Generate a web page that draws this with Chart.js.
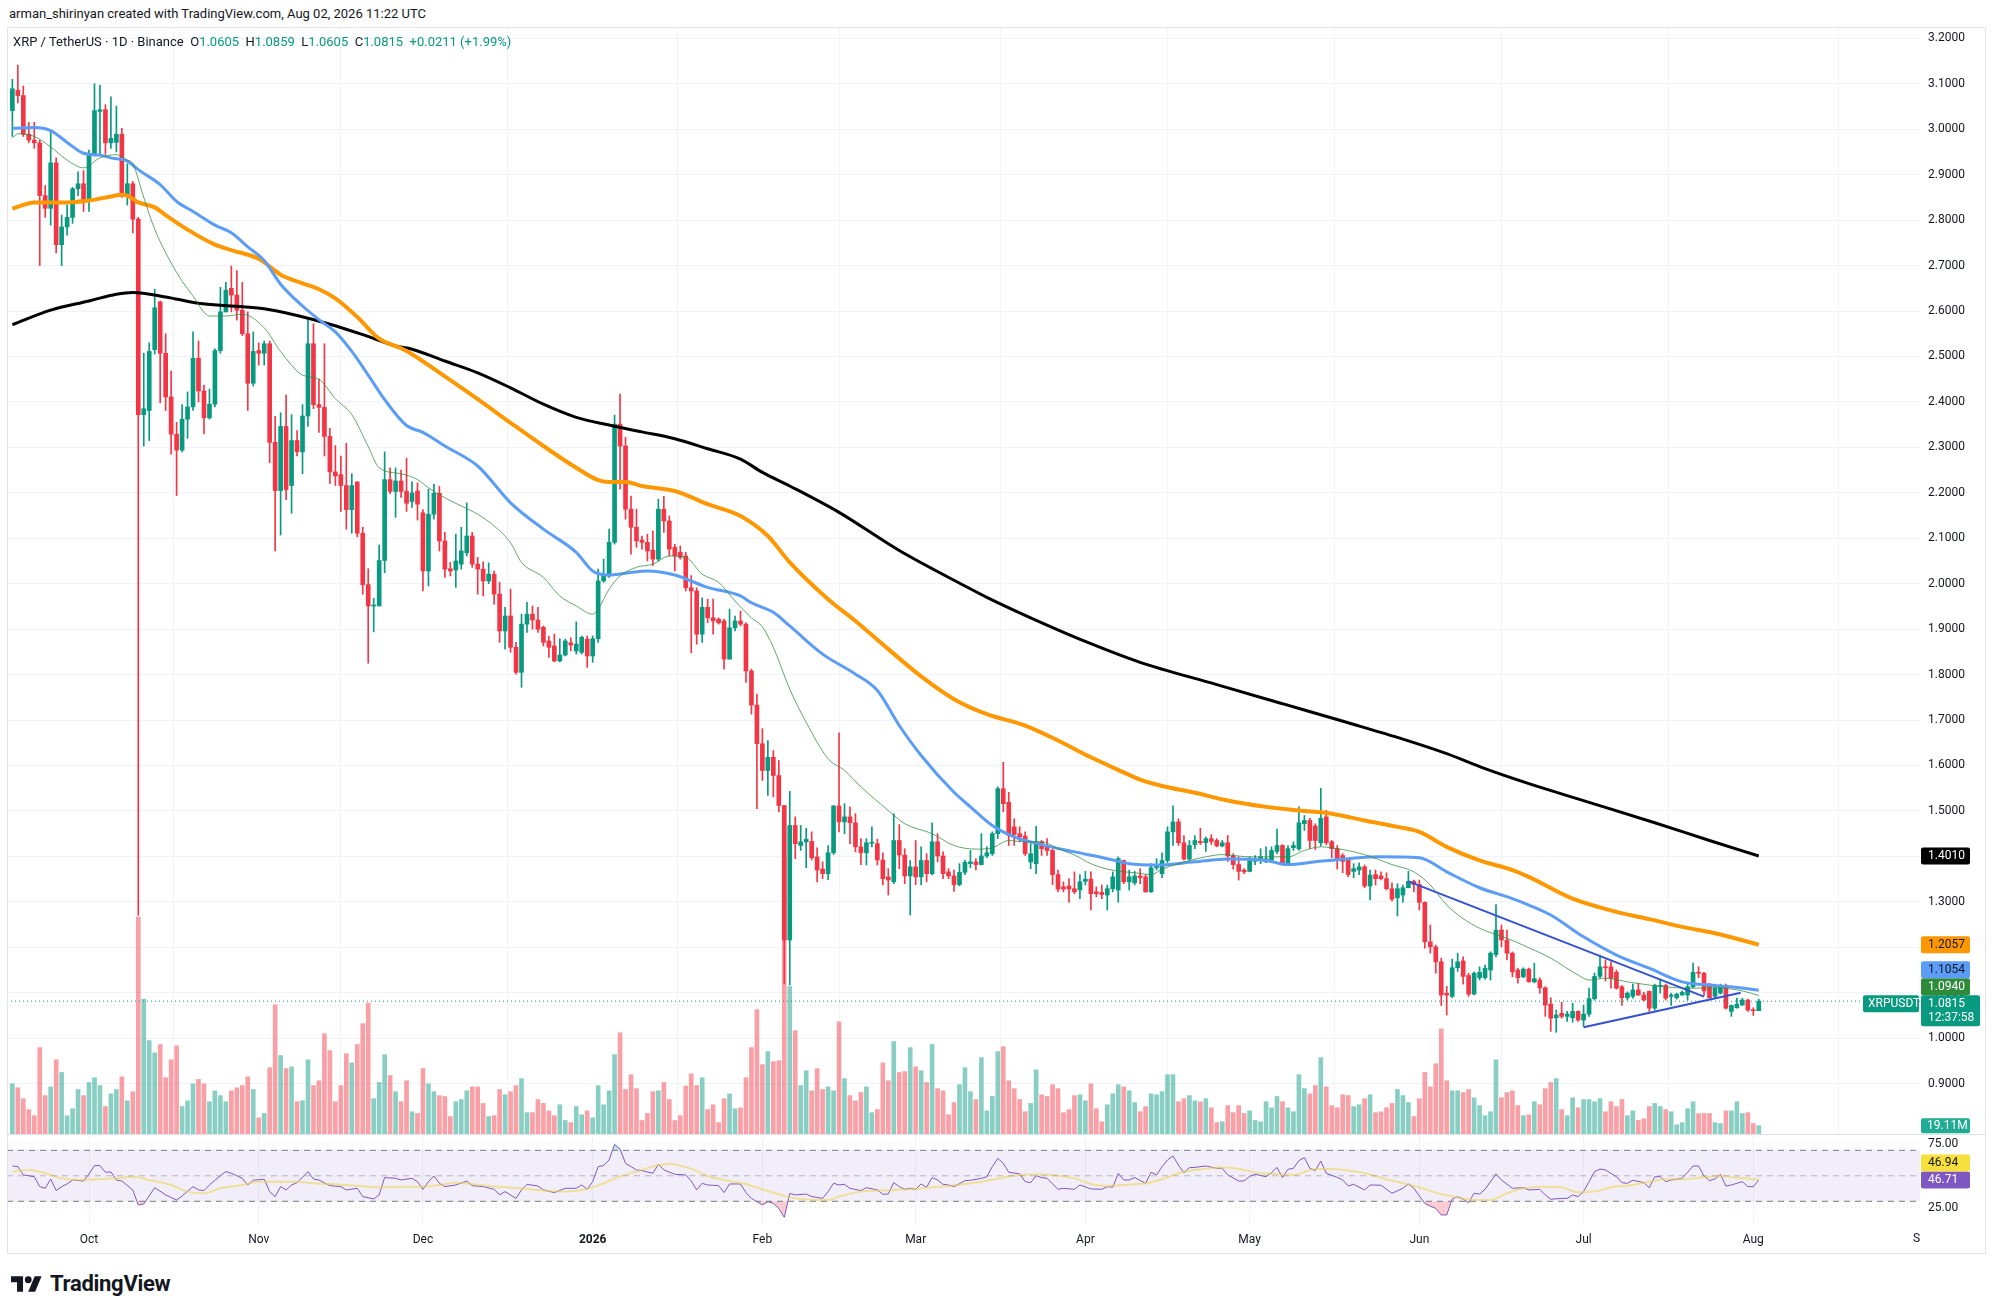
<!DOCTYPE html>
<html>
<head>
<meta charset="utf-8">
<title>XRP / TetherUS · 1D · Binance</title>
<script src="https://cdn.jsdelivr.net/npm/chart.js@4.4.1/dist/chart.umd.min.js"></script>
<style>
  html, body { margin: 0; padding: 0; background: #fff; }
  body { width: 1996px; height: 1314px; position: relative; overflow: hidden;
         font-family: Roboto, "DejaVu Sans", sans-serif; color: #131722; }
  #credit { position: absolute; left: 9px; top: 6px; font-size: 13px; }
  #legend { position: absolute; left: 13px; top: 34px; font-size: 13px; z-index: 3; white-space: pre; }
  #legend .v { color: #089981; }
  .pane { position: absolute; left: 7px; width: 1978px; }
  #pricePane { top: 27px; height: 1107px; }
  #rsiPane { top: 1134px; height: 119px; }
  #frame { position: absolute; left: 7px; top: 27px; width: 1979px; height: 1227px;
           border: 1px solid #e0e3eb; box-sizing: border-box; pointer-events: none; z-index: 2; }
  #sep { position: absolute; left: 7px; top: 1134px; width: 1978px; height: 1px; background: #e0e3eb; z-index: 2; }
  #logo { position: absolute; left: 11px; top: 1271px; display: flex; align-items: center; gap: 8px;
          font-size: 22px; font-weight: 700; letter-spacing: -0.3px; color: #131722; }
</style>
</head>
<body>
<div id="credit">arman_shirinyan created with TradingView.com, Aug 02, 2026 11:22 UTC</div>
<div class="pane" id="pricePane"><canvas id="price"></canvas></div>
<div class="pane" id="rsiPane"><canvas id="rsi"></canvas></div>
<div id="legend">XRP / TetherUS · 1D · Binance  O<span class="v">1.0605</span>  H<span class="v">1.0859</span>  L<span class="v">1.0605</span>  C<span class="v">1.0815</span>  <span class="v">+0.0211 (+1.99%)</span></div>
<div id="frame"></div>
<div id="sep"></div>
<div id="logo">
  <svg width="31" height="16" viewBox="0 4 36 18"><path d="M14 22H7V11H0V4h14v18zM28 22h-8l7.5-18h8L28 22z" fill="#131722"/><circle cx="20" cy="8" r="4" fill="#131722"/></svg>
  <span>TradingView</span>
</div>
<script>
// day index: 0 = Oct 1 2025, one candle per day
const firstDay = -14;

const opens = [
  3.041,3.086,3.074,2.989,2.976,2.970,2.854,2.826,2.926,2.746,
  2.785,2.806,2.869,2.880,2.845,2.945,3.039,3.043,2.970,2.971,
  2.989,2.854,2.880,2.802,2.372,2.381,2.515,2.620,2.507,2.411,
  2.329,2.294,2.362,2.389,2.496,2.424,2.365,2.395,2.513,2.598,
  2.650,2.635,2.602,2.550,2.441,2.513,2.507,2.528,2.311,2.205,
  2.346,2.216,2.315,2.290,2.369,2.528,2.394,2.388,2.324,2.246,
  2.240,2.216,2.163,2.224,2.111,1.998,1.951,1.951,2.051,2.229,
  2.203,2.226,2.203,2.181,2.204,2.156,2.028,2.153,2.199,2.094,
  2.033,2.030,2.043,2.068,2.105,2.043,2.032,2.006,2.021,1.977,
  1.896,1.929,1.860,1.805,1.911,1.933,1.920,1.904,1.874,1.863,
  1.830,1.843,1.870,1.852,1.849,1.878,1.841,1.879,2.006,2.017,
  2.091,2.351,2.303,2.164,2.124,2.096,2.091,2.074,2.054,2.164,
  2.138,2.080,2.069,2.061,1.991,1.984,1.889,1.948,1.925,1.922,
  1.918,1.834,1.903,1.918,1.911,1.808,1.733,1.648,1.589,1.618,
  1.578,1.512,1.216,1.468,1.424,1.432,1.433,1.399,1.372,1.362,
  1.408,1.511,1.476,1.487,1.474,1.421,1.408,1.429,1.428,1.392,
  1.355,1.344,1.435,1.403,1.357,1.377,1.355,1.391,1.362,1.432,
  1.401,1.366,1.357,1.338,1.365,1.384,1.388,1.382,1.401,1.406,
  1.450,1.549,1.519,1.465,1.450,1.445,1.388,1.384,1.432,1.421,
  1.413,1.360,1.333,1.335,1.329,1.326,1.345,1.350,1.322,1.321,
  1.315,1.329,1.326,1.391,1.344,1.342,1.357,1.355,1.322,1.375,
  1.362,1.391,1.454,1.476,1.430,1.394,1.426,1.433,1.430,1.439,
  1.435,1.423,1.430,1.401,1.382,1.370,1.367,1.389,1.392,1.388,
  1.392,1.411,1.424,1.384,1.419,1.417,1.472,1.479,1.467,1.430,
  1.487,1.432,1.417,1.402,1.392,1.367,1.370,1.377,1.335,1.360,
  1.357,1.351,1.329,1.309,1.315,1.331,1.345,1.338,1.299,1.212,
  1.201,1.168,1.099,1.092,1.155,1.170,1.138,1.097,1.133,1.133,
  1.150,1.184,1.238,1.216,1.187,1.150,1.135,1.152,1.124,1.128,
  1.111,1.075,1.045,1.055,1.048,1.045,1.059,1.040,1.053,1.087,
  1.136,1.157,1.157,1.145,1.113,1.089,1.092,1.106,1.095,1.103,
  1.066,1.114,1.116,1.092,1.089,1.095,1.095,1.113,1.145,1.143,
  1.119,1.092,1.099,1.116,1.059,1.067,1.073,1.084,1.062,1.0605
];
const highs = [
  3.110,3.141,3.095,3.015,3.015,2.976,2.876,2.997,2.937,2.811,
  2.833,2.872,2.906,2.909,2.954,3.100,3.097,3.054,3.071,3.051,
  3.002,2.924,2.885,2.806,2.507,2.530,2.648,2.622,2.550,2.468,
  2.355,2.394,2.422,2.554,2.534,2.437,2.428,2.517,2.652,2.663,
  2.699,2.689,2.663,2.598,2.554,2.530,2.534,2.534,2.368,2.376,
  2.415,2.372,2.337,2.394,2.585,2.572,2.450,2.528,2.342,2.304,
  2.281,2.309,2.242,2.224,2.124,2.033,1.968,2.085,2.290,2.255,
  2.255,2.250,2.276,2.224,2.222,2.163,2.208,2.219,2.214,2.113,
  2.047,2.109,2.124,2.178,2.113,2.058,2.048,2.046,2.028,2.003,
  1.948,1.988,1.871,1.933,1.959,1.951,1.948,1.907,1.885,1.889,
  1.879,1.878,1.881,1.916,1.885,1.885,1.885,2.032,2.054,2.120,
  2.371,2.417,2.322,2.193,2.164,2.105,2.109,2.116,2.186,2.192,
  2.149,2.087,2.083,2.069,2.018,1.991,1.969,1.966,1.966,1.925,
  1.922,1.944,1.929,1.940,1.914,1.812,1.757,1.681,1.655,1.633,
  1.611,1.512,1.543,1.487,1.468,1.462,1.454,1.419,1.388,1.424,
  1.512,1.672,1.516,1.509,1.494,1.439,1.439,1.465,1.438,1.408,
  1.373,1.494,1.470,1.417,1.391,1.435,1.421,1.406,1.474,1.450,
  1.410,1.373,1.370,1.384,1.392,1.413,1.395,1.450,1.421,1.454,
  1.553,1.607,1.541,1.483,1.465,1.454,1.428,1.466,1.435,1.439,
  1.417,1.370,1.344,1.351,1.366,1.360,1.367,1.366,1.333,1.337,
  1.337,1.366,1.399,1.392,1.370,1.367,1.373,1.360,1.384,1.395,
  1.408,1.465,1.511,1.483,1.446,1.435,1.446,1.462,1.443,1.448,
  1.439,1.435,1.446,1.406,1.399,1.373,1.399,1.402,1.417,1.421,
  1.421,1.460,1.426,1.424,1.432,1.509,1.490,1.484,1.472,1.550,
  1.501,1.435,1.424,1.406,1.395,1.384,1.386,1.381,1.370,1.370,
  1.366,1.364,1.342,1.340,1.337,1.367,1.348,1.348,1.300,1.249,
  1.205,1.176,1.114,1.174,1.187,1.179,1.143,1.146,1.157,1.161,
  1.190,1.294,1.249,1.238,1.190,1.154,1.155,1.154,1.165,1.133,
  1.113,1.089,1.062,1.079,1.059,1.077,1.060,1.073,1.110,1.143,
  1.183,1.172,1.168,1.150,1.116,1.102,1.119,1.121,1.101,1.104,
  1.119,1.128,1.119,1.099,1.099,1.104,1.121,1.165,1.157,1.145,
  1.121,1.119,1.119,1.119,1.073,1.088,1.088,1.086,1.067,1.0859
];
const lows = [
  2.984,3.058,2.984,2.970,2.958,2.700,2.806,2.789,2.728,2.700,
  2.767,2.793,2.854,2.819,2.819,2.941,2.945,2.945,2.958,2.950,
  2.850,2.833,2.772,1.270,2.303,2.315,2.505,2.398,2.381,2.285,
  2.194,2.290,2.320,2.381,2.400,2.330,2.362,2.389,2.507,2.598,
  2.598,2.580,2.546,2.381,2.435,2.481,2.481,2.266,2.072,2.107,
  2.185,2.155,2.281,2.242,2.346,2.385,2.333,2.281,2.220,2.216,
  2.159,2.120,2.111,2.103,1.977,1.825,1.894,1.951,2.024,2.198,
  2.146,2.190,2.159,2.168,2.140,1.984,1.995,2.142,2.072,2.014,
  2.017,1.992,2.032,2.061,2.036,1.977,1.973,2.000,1.955,1.871,
  1.856,1.849,1.801,1.772,1.893,1.900,1.893,1.863,1.838,1.828,
  1.828,1.841,1.852,1.845,1.845,1.816,1.827,1.871,2.003,2.014,
  2.087,2.208,2.142,2.065,2.080,2.076,2.050,2.040,2.050,2.113,
  2.061,2.028,2.054,1.984,1.848,1.867,1.871,1.914,1.889,1.911,
  1.812,1.834,1.896,1.907,1.783,1.713,1.505,1.567,1.534,1.531,
  1.498,1.120,1.117,1.395,1.413,1.375,1.392,1.344,1.351,1.349,
  1.404,1.454,1.450,1.428,1.410,1.382,1.381,1.421,1.381,1.337,
  1.315,1.340,1.373,1.340,1.271,1.338,1.337,1.344,1.359,1.388,
  1.351,1.351,1.323,1.335,1.360,1.375,1.370,1.381,1.397,1.402,
  1.439,1.498,1.424,1.424,1.432,1.402,1.373,1.362,1.402,1.402,
  1.338,1.322,1.322,1.299,1.318,1.307,1.337,1.282,1.311,1.307,
  1.282,1.322,1.299,1.340,1.326,1.337,1.340,1.321,1.321,1.370,
  1.353,1.386,1.424,1.424,1.392,1.392,1.417,1.426,1.411,1.426,
  1.421,1.421,1.389,1.372,1.348,1.362,1.366,1.382,1.384,1.386,
  1.388,1.406,1.381,1.381,1.413,1.413,1.457,1.417,1.415,1.423,
  1.426,1.397,1.372,1.364,1.355,1.353,1.360,1.331,1.304,1.337,
  1.348,1.326,1.302,1.269,1.299,1.331,1.322,1.282,1.198,1.187,
  1.143,1.072,1.051,1.089,1.147,1.119,1.092,1.095,1.128,1.130,
  1.128,1.179,1.201,1.172,1.135,1.121,1.133,1.123,1.122,1.099,
  1.048,1.015,1.013,1.044,1.037,1.035,1.037,1.026,1.048,1.084,
  1.132,1.126,1.110,1.108,1.072,1.084,1.088,1.094,1.082,1.059,
  1.062,1.099,1.084,1.072,1.086,1.094,1.084,1.111,1.133,1.094,
  1.088,1.089,1.097,1.064,1.048,1.066,1.072,1.059,1.050,1.0605
];
const closes = [
  3.089,3.074,2.989,2.976,2.970,2.854,2.826,2.926,2.746,2.785,
  2.806,2.869,2.880,2.845,2.945,3.041,3.043,2.970,2.980,2.989,
  2.854,2.880,2.802,2.372,2.385,2.511,2.607,2.507,2.411,2.329,
  2.294,2.362,2.389,2.496,2.424,2.365,2.395,2.513,2.598,2.646,
  2.635,2.602,2.550,2.441,2.511,2.507,2.528,2.311,2.205,2.346,
  2.207,2.315,2.290,2.369,2.528,2.394,2.388,2.324,2.246,2.237,
  2.216,2.163,2.216,2.111,1.998,1.951,1.953,2.051,2.229,2.203,
  2.226,2.203,2.177,2.200,2.175,2.028,2.153,2.199,2.094,2.032,
  2.028,2.050,2.072,2.105,2.043,2.032,2.006,2.021,1.977,1.896,
  1.929,1.860,1.805,1.911,1.933,1.920,1.900,1.871,1.860,1.830,
  1.843,1.874,1.865,1.867,1.882,1.841,1.879,2.006,2.021,2.091,
  2.351,2.303,2.164,2.124,2.094,2.091,2.072,2.054,2.164,2.138,
  2.076,2.061,2.058,1.991,1.984,1.889,1.948,1.925,1.918,1.914,
  1.834,1.903,1.918,1.911,1.808,1.733,1.648,1.589,1.618,1.578,
  1.512,1.216,1.468,1.428,1.432,1.438,1.397,1.370,1.362,1.408,
  1.511,1.476,1.487,1.474,1.421,1.408,1.430,1.431,1.392,1.351,
  1.348,1.435,1.403,1.357,1.377,1.355,1.391,1.362,1.432,1.401,
  1.362,1.357,1.338,1.365,1.387,1.388,1.382,1.401,1.408,1.450,
  1.549,1.516,1.446,1.448,1.443,1.406,1.406,1.432,1.417,1.413,
  1.360,1.328,1.328,1.328,1.322,1.344,1.350,1.318,1.318,1.316,
  1.329,1.355,1.395,1.344,1.355,1.357,1.353,1.322,1.375,1.379,
  1.391,1.454,1.476,1.430,1.394,1.424,1.435,1.430,1.439,1.433,
  1.423,1.430,1.401,1.382,1.367,1.366,1.391,1.395,1.399,1.395,
  1.413,1.424,1.382,1.417,1.424,1.474,1.479,1.435,1.435,1.484,
  1.430,1.417,1.394,1.389,1.360,1.373,1.377,1.335,1.359,1.351,
  1.351,1.329,1.306,1.329,1.331,1.345,1.338,1.299,1.212,1.201,
  1.168,1.095,1.095,1.155,1.168,1.136,1.097,1.143,1.145,1.154,
  1.187,1.238,1.216,1.187,1.146,1.133,1.152,1.124,1.131,1.111,
  1.073,1.044,1.051,1.048,1.053,1.059,1.040,1.053,1.087,1.136,
  1.157,1.155,1.132,1.110,1.089,1.099,1.106,1.095,1.084,1.066,
  1.116,1.116,1.088,1.095,1.097,1.101,1.113,1.145,1.143,1.104,
  1.089,1.110,1.116,1.066,1.072,1.075,1.084,1.062,1.0605,1.0815
];
// volume in millions
const vols = [
  115,106,81,56,42,198,88,108,170,141,
  42,58,102,88,118,129,111,63,92,102,
  131,76,97,497,309,214,186,205,129,170,
  202,63,76,115,125,115,74,99,88,74,
  99,106,111,131,102,37,47,152,296,180,
  150,154,74,76,170,111,122,230,191,74,
  111,184,163,205,253,300,81,118,182,134,
  97,74,122,51,47,150,115,97,88,86,
  40,74,79,99,108,108,70,40,42,102,
  90,97,111,127,49,49,79,70,53,42,
  67,31,26,63,44,53,37,111,67,99,
  182,232,102,136,104,31,47,97,99,118,
  79,31,42,110,138,111,129,56,67,26,
  81,92,58,60,129,198,285,159,189,166,
  168,635,338,237,111,145,99,150,102,108,
  99,257,127,88,76,95,108,49,56,163,
  122,212,141,143,198,154,145,118,205,104,
  99,44,72,113,152,97,79,175,53,86,
  189,200,122,104,79,51,70,147,90,86,
  113,104,49,56,88,90,76,115,58,28,
  67,92,113,108,99,72,51,63,92,90,
  97,136,136,74,81,88,76,74,81,60,
  26,28,65,49,65,47,53,31,28,74,
  60,86,74,60,51,136,104,92,111,175,
  108,65,60,90,88,63,67,81,90,49,
  51,60,70,102,88,72,40,81,141,108,
  161,241,122,99,99,95,102,83,65,42,
  51,170,83,95,99,65,42,44,74,67,
  104,118,127,56,42,83,60,79,79,74,
  81,51,74,63,79,42,53,31,35,63,
  70,63,56,51,21,26,58,74,47,47,
  47,26,24,53,53,74,47,49,24,19.11
];

// moving averages
const ma20Days = [-14,-13,-10,-7,-4,-1,2,5,7,8, 10,12,16,19,22,25,28,32,35,39,
  42,45,48,51,53,57,60,62,65,68, 71,74,77,79,83,86,89,92,93,95,
  97,100,103,106,109,112,115,118,121,123, 125,128,131,135,138,141,146,149,154,158,
  162,165,168,171,174,177,180,183,186,189, 191,194,196,199,204,207,212,216,219,222,
  225,228,233,238,242,245,248,251,254,257, 259,263,267,272,274,277,281,285,290,293,
  297,302,305];
const ma20Vals = [2.980,2.990,2.984,2.961,2.932,2.915,2.937,2.944,2.932,2.924, 2.850,2.780,2.685,2.633,2.589,2.589,2.593,2.563,2.511,2.459,
  2.450,2.407,2.372,2.302,2.255,2.242,2.229,2.211,2.189,2.171, 2.153,2.127,2.090,2.047,2.014,1.973,1.951,1.933,1.944,1.988,
  2.017,2.036,2.043,2.061,2.058,2.021,2.003,1.962,1.925,1.905, 1.860,1.768,1.695,1.615,1.589,1.553,1.501,1.472,1.450,1.424,
  1.416,1.419,1.435,1.432,1.432,1.417,1.403,1.384,1.372,1.366, 1.364,1.360,1.372,1.384,1.399,1.404,1.399,1.399,1.399,1.413,
  1.421,1.417,1.404,1.382,1.366,1.337,1.293,1.263,1.242,1.228, 1.220,1.199,1.176,1.139,1.128,1.132,1.124,1.117,1.111,1.110,
  1.111,1.104,1.094];

const ma50Days = [-14,-10,-7,-4,-1,2,4,7,9,13, 16,19,23,26,29,32,35,39,42,45,
  48,51,54,58,61,65,71,77,83,89, 92,95,98,102,107,113,119,121,125,128,
  134,140,144,148,152,158,161,165,169,174, 180,186,190,195,202,208,215,219,224,230,
  236,243,248,254,260,263,267,273,279,285, 291,296,300,305];
const ma50Vals = [3.002,3.004,2.997,2.971,2.947,2.943,2.937,2.930,2.911,2.878, 2.841,2.819,2.789,2.772,2.741,2.711,2.659,2.611,2.581,2.554,
  2.511,2.459,2.405,2.348,2.333,2.303,2.259,2.178,2.120,2.069, 2.028,2.019,2.023,2.028,2.019,1.992,1.973,1.958,1.937,1.907,
  1.845,1.801,1.765,1.688,1.622,1.541,1.509,1.468,1.443,1.426, 1.410,1.395,1.384,1.381,1.388,1.394,1.391,1.382,1.388,1.395,
  1.399,1.397,1.366,1.331,1.307,1.293,1.271,1.223,1.183,1.154, 1.124,1.117,1.113,1.1054];

const ma100Days = [-14,-10,-4,0,4,6,7,9,12,14, 18,23,26,31,35,39,42,45,49,53,
  57,59,65,71,77,83,89,93,95,98, 101,107,113,119,124,128,135,140,146,152,
  158,164,171,177,183,189,192,196,202,208, 215,221,227,233,239,243,248,254,260,263,
  271,279,285,291,297,305];
const ma100Vals = [2.825,2.839,2.839,2.843,2.852,2.856,2.854,2.839,2.828,2.811, 2.779,2.746,2.734,2.715,2.680,2.661,2.648,2.628,2.587,2.539,
  2.518,2.505,2.456,2.406,2.354,2.303,2.255,2.228,2.224,2.224, 2.215,2.204,2.175,2.149,2.105,2.047,1.966,1.918,1.856,1.796,
  1.746,1.713,1.688,1.655,1.618,1.585,1.569,1.555,1.540,1.523, 1.509,1.501,1.494,1.479,1.465,1.454,1.421,1.391,1.370,1.355,
  1.307,1.278,1.262,1.245,1.231,1.2057];

const ma200Days = [-14,-7,0,5,8,14,20,26,32,38, 44,50,56,59,65,71,77,83,89,95,
  101,107,113,119,123,128,137,148,160,164, 172,183,192,206,218,230,240,248,255,263,
  274,286,296,305];
const ma200Vals = [2.570,2.602,2.622,2.637,2.641,2.631,2.617,2.611,2.605,2.590, 2.571,2.548,2.523,2.516,2.490,2.464,2.431,2.395,2.366,2.349,
  2.334,2.319,2.297,2.274,2.245,2.215,2.157,2.073,1.995,1.970, 1.925,1.868,1.827,1.778,1.736,1.694,1.658,1.626,1.593,1.560,
  1.519,1.474,1.435,1.401];

// drawn triangle
const trendUpperDays = [241, 295];
const trendUpperVals = [1.345, 1.0915];
const trendLowerDays = [273, 301.7];
const trendLowerVals = [1.024, 1.100];

// RSI(14) and its moving average
const rsiDays = [-14,-13,-12,-10,-9,-8,-7,-6,-5,-4, -3,-1,0,1,2,3,4,5,6,8,
  9,10,12,14,16,17,19,20,21,22, 24,25,26,28,29,30,32,33,34,35,
  36,37,38,40,41,42,44,46,47,49, 50,52,53,54,56,57,59,60,61,62,
  63,64,65,67,69,70,72,74,75,76, 78,79,80,82,83,85,87,89,90,91,
  92,93,94,95,96,97,98,100,101,103, 104,105,107,109,110,111,112,113,115,116,
  117,118,119,120,121,122,123,124,125,126, 127,128,129,131,132,134,135,136,137,138,
  139,141,142,144,145,146,147,148,149,150, 151,152,153,154,155,156,157,158,160,161,
  163,164,165,166,167,168,170,171,172,173, 174,175,177,178,180,181,183,185,186,187,
  188,189,190,191,193,194,195,196,197,198, 199,200,201,202,204,206,207,208,210,211,
  212,213,215,216,217,218,219,220,221,222, 223,224,225,226,228,229,230,231,233,234,
  236,238,240,241,242,244,245,246,247,248, 249,250,251,252,253,254,255,257,258,260,
  262,263,265,266,267,269,270,271,272,273, 274,275,276,277,279,280,281,282,284,285,
  286,287,288,289,291,292,293,294,295,296, 297,298,299,300,302,303,304,305];
const rsiVals = [57.7,57.2,50.7,49.3,41.5,40.2,47.5,38.4,41.5,43.6, 46.7,45.9,51.5,58.0,58.0,52.8,53.0,46.7,45.9,38.9,
  27.1,27.9,40.7,35.0,31.0,34.2,41.5,38.9,38.4,42.8, 50.1,53.3,52.0,48.0,42.8,46.5,47.3,37.6,33.7,41.5,
  38.9,42.8,44.6,53.3,47.5,46.7,42.3,41.5,38.9,40.2, 33.7,31.8,35.0,48.6,48.0,46.7,48.0,45.4,39.4,45.4,
  49.9,44.1,41.5,42.8,45.9,42.3,41.5,39.4,35.0,37.6, 32.3,38.9,43.3,42.0,38.9,36.8,40.2,40.2,42.8,39.4,
  45.4,57.2,58.0,62.4,74.7,71.0,59.8,54.6,54.1,52.0, 59.0,54.6,51.2,50.7,45.9,38.9,44.1,42.8,42.3,36.8,
  43.6,43.6,43.6,36.8,32.3,29.7,27.1,29.7,28.3,24.4, 17.4,36.2,35.0,35.7,33.7,32.3,37.6,44.1,42.8,43.3,
  40.2,38.4,40.7,38.9,35.5,35.7,44.6,41.5,39.4,40.2, 39.4,43.6,41.0,48.6,46.7,43.3,42.8,41.5,46.2,46.5,
  48.0,49.3,57.2,63.7,59.8,52.8,51.5,45.4,44.6,50.1, 48.6,48.0,39.4,40.2,39.4,42.8,39.7,39.4,41.5,41.0,
  52.0,46.7,46.7,48.6,44.1,52.8,50.7,57.2,62.4,65.6, 58.4,52.5,56.4,56.6,57.7,55.9,55.9,50.7,45.9,46.0,
  49.6,51.2,49.3,52.5,56.6,48.6,55.1,55.9,61.9,64.3, 55.9,54.1,61.6,52.0,48.8,46.7,42.0,43.3,38.9,42.8,
  42.6,36.3,40.2,43.6,40.2,28.3,26.2,24.4,19.3,19.3, 31.8,33.7,31.6,28.9,36.3,35.7,39.4,51.5,46.7,40.2,
  40.7,38.9,39.4,35.0,31.6,32.3,32.3,35.0,33.7,37.6, 45.4,53.3,55.3,54.6,49.3,44.6,44.1,46.5,44.6,40.7,
  49.3,49.3,45.4,46.7,48.0,52.8,57.7,57.7,49.9,46.2, 47.5,51.2,42.0,42.8,45.4,41.5,41.5,46.71];

const rsiMaDays = [-14,-11,-8,-5,-2,2,5,8,11,15, 18,21,24,28,31,34,38,41,44,47,
  51,54,57,60,64,67,70,73,77,80, 83,87,90,93,96,100,103,106,110,113,
  116,120,123,126,129,133,135,137,140,144, 147,150,154,157,160,163,167,170,173,176,
  180,183,186,189,193,196,199,202,206,208, 211,214,217,220,224,227,230,233,237,240,
  243,246,250,253,256,259,262,265,269,272, 275,278,282,285,288,291,295,298,301,305];
const rsiMaVals = [53.3,54.6,52.0,48.0,46.7,47.5,48.0,49.3,46.7,42.8, 37.6,36.3,40.2,42.8,45.4,45.4,45.4,44.1,43.6,42.8,
  41.5,41.0,41.5,41.5,42.8,44.6,43.6,42.0,40.7,39.7, 38.4,37.6,38.9,42.3,48.0,53.3,57.2,59.3,55.5,49.9,
  46.7,43.6,39.4,35.5,32.3,31.0,31.0,33.7,37.0,38.4, 38.9,39.4,41.0,42.0,43.6,45.4,48.6,50.7,51.2,50.7,
  48.0,43.6,42.0,42.8,44.1,47.3,52.0,54.6,56.4,56.6, 54.6,52.0,51.5,50.7,55.3,55.3,54.1,52.0,47.3,44.1,
  41.0,36.8,33.0,31.0,31.0,36.3,40.2,41.5,41.0,37.0, 37.6,41.0,42.8,45.4,47.3,47.3,48.8,49.9,48.6,46.94];

// axes
const monthDays = [0, 31, 61, 92, 123, 151, 182, 212, 243, 273, 304];
const monthLabels = ['Oct', 'Nov', 'Dec', '2026', 'Feb', 'Mar', 'Apr', 'May', 'Jun', 'Jul', 'Aug'];
const nextMonthDay = 335;
const nextMonthLabel = 'Sep';
const priceTicks = [0.9, 1.0, 1.1, 1.2, 1.3, 1.4, 1.5, 1.6, 1.7, 1.8, 1.9, 2.0, 2.1,
  2.2, 2.3, 2.4, 2.5, 2.6, 2.7, 2.8, 2.9, 3.0, 3.1, 3.2];
const rsiTicks = [25, 75];
const symbol = 'XRPUSDT';
const countdown = '12:37:58';

// ---- drawing ----
const FONT = 'Roboto, "DejaVu Sans", sans-serif';
Chart.defaults.font.family = FONT;
Chart.defaults.font.size = 12;
Chart.defaults.color = '#131722';
Chart.defaults.animation = false;

const X_MIN = -14.98, X_MAX = 334.45;
const UP = '#089981', DOWN = '#f23645';
const GRID = '#f0f3fa';
const C20 = '#2e8b3a', C50 = '#5b9cf6', C100 = '#ff9800', C200 = '#000000';

const days = closes.map((_, i) => firstDay + i);
const isUp = closes.map((c, i) => c >= opens[i]);
const candleColors = isUp.map(u => u ? UP : DOWN);
const volColors = isUp.map(u => u ? 'rgba(8,153,129,0.48)' : 'rgba(242,54,69,0.48)');
const pts = (ds, vs) => ds.map((d, i) => ({x: d, y: vs[i]}));
const lastOf = a => a[a.length - 1];
const lastClose = lastOf(closes);

function box(ctx, x, y, w, h, bg) {
  ctx.fillStyle = bg;
  ctx.beginPath();
  ctx.roundRect ? ctx.roundRect(x, y, w, h, 2) : ctx.rect(x, y, w, h);
  ctx.fill();
}

function noPad(s) { s.paddingTop = 0; s.paddingBottom = 0; s.paddingLeft = 0; s.paddingRight = 0; }

const priceTags = {
  id: 'priceTags',
  afterDraw(chart) {
    const {ctx, chartArea: a, scales: {y, vol}} = chart;
    const x0 = a.right + 1;
    ctx.save();
    ctx.font = '12px ' + FONT;
    ctx.textBaseline = 'middle';
    const top = y.getPixelForValue(lastClose) - 6;
    box(ctx, x0, top, 59, 31, UP);
    box(ctx, a.right - 57, top, 56, 17, UP);
    ctx.fillStyle = '#ffffff';
    ctx.fillText(lastClose.toFixed(4), x0 + 7, top + 8.5);
    ctx.fillText(countdown, x0 + 7, top + 23);
    ctx.fillText(symbol, a.right - 52, top + 9);
    let limit = top;
    const tags = [
      {v: lastOf(ma20Vals), bg: C20, fg: '#ffffff'},
      {v: lastOf(ma50Vals), bg: C50, fg: '#131722'},
      {v: lastOf(ma100Vals), bg: C100, fg: '#131722'},
      {v: lastOf(ma200Vals), bg: C200, fg: '#ffffff'}
    ];
    for (const t of tags) {
      let cy = y.getPixelForValue(t.v);
      if (cy + 8.5 > limit) cy = limit - 8.5;
      box(ctx, x0, cy - 8.5, 49, 17, t.bg);
      ctx.fillStyle = t.fg;
      ctx.fillText(t.v.toFixed(4), x0 + 7, cy + 0.5);
      limit = cy - 8.5;
    }
    const v = lastOf(vols);
    const vy = vol.getPixelForValue(v);
    box(ctx, x0, vy - 7.5, 49, 15, '#22ab94');
    ctx.fillStyle = '#ffffff';
    ctx.fillText(v.toFixed(2) + 'M', x0 + 6, vy + 0.5);
    ctx.restore();
  }
};

new Chart(document.getElementById('price'), {
  type: 'bar',
  data: {
    datasets: [
      {type: 'line', data: pts(trendUpperDays, trendUpperVals), borderColor: '#3451d1', borderWidth: 2, pointRadius: 0, order: 0},
      {type: 'line', data: pts(trendLowerDays, trendLowerVals), borderColor: '#3451d1', borderWidth: 2, pointRadius: 0, order: 0},
      {type: 'line', data: pts(ma20Days, ma20Vals), borderColor: 'rgba(46,139,58,0.75)', borderWidth: 1, pointRadius: 0, cubicInterpolationMode: 'monotone', order: 1},
      {type: 'line', data: pts(ma50Days, ma50Vals), borderColor: C50, borderWidth: 3, pointRadius: 0, cubicInterpolationMode: 'monotone', order: 2},
      {type: 'line', data: pts(ma100Days, ma100Vals), borderColor: C100, borderWidth: 4, pointRadius: 0, cubicInterpolationMode: 'monotone', order: 3},
      {type: 'line', data: pts(ma200Days, ma200Vals), borderColor: C200, borderWidth: 3, pointRadius: 0, cubicInterpolationMode: 'monotone', order: 4},
      {type: 'line', data: [{x: X_MIN, y: lastClose}, {x: X_MAX, y: lastClose}], borderColor: UP, borderWidth: 1, borderDash: [1, 3], pointRadius: 0, order: 5},
      {type: 'bar', data: days.map((d, i) => ({x: d, y: [opens[i], closes[i]]})), backgroundColor: candleColors,
        barThickness: 4, minBarLength: 1, grouped: false, order: 6},
      {type: 'bar', data: days.map((d, i) => ({x: d, y: [lows[i], highs[i]]})), backgroundColor: candleColors,
        barThickness: 1, grouped: false, order: 7},
      {type: 'bar', yAxisID: 'vol', data: days.map((d, i) => ({x: d, y: vols[i]})), backgroundColor: volColors,
        barThickness: 4, grouped: false, order: 8}
    ]
  },
  options: {
    responsive: true,
    maintainAspectRatio: false,
    events: [],
    layout: {padding: 0},
    plugins: {legend: {display: false}, tooltip: {enabled: false}},
    scales: {
      x: {
        type: 'linear', min: X_MIN, max: X_MAX, offset: false,
        afterBuildTicks: s => { s.ticks = monthDays.map(v => ({value: v})); },
        ticks: {display: false},
        grid: {color: GRID, drawTicks: false},
        border: {display: false},
        afterFit: s => { s.height = 0; noPad(s); }
      },
      y: {
        position: 'right', min: 0.7892, max: 3.2249,
        afterBuildTicks: s => { s.ticks = priceTicks.map(v => ({value: v})); },
        ticks: {callback: v => Number(v).toFixed(4), padding: 8, color: '#131722', font: {size: 12}},
        grid: {color: GRID, drawTicks: false},
        border: {display: false},
        afterFit: s => { s.width = 65; noPad(s); }
      },
      vol: {type: 'linear', display: false, min: 0, max: 2537}
    }
  },
  plugins: [priceTags]
});

const rsiTags = {
  id: 'rsiTags',
  afterDraw(chart) {
    const {ctx, chartArea: a, scales: {x, y}} = chart;
    const x0 = a.right + 1;
    ctx.save();
    ctx.font = '12px ' + FONT;
    ctx.textBaseline = 'middle';
    const r = lastOf(rsiVals), m = lastOf(rsiMaVals);
    const ry = y.getPixelForValue(r);
    box(ctx, x0, ry - 8.5, 49, 17, '#7e57c2');
    ctx.fillStyle = '#ffffff';
    ctx.fillText(r.toFixed(2), x0 + 7, ry + 0.5);
    let my = y.getPixelForValue(m);
    if (my + 8.5 > ry - 8.5) my = ry - 17;
    box(ctx, x0, my - 8.5, 49, 17, '#f7e03c');
    ctx.fillStyle = '#131722';
    ctx.fillText(m.toFixed(2), x0 + 7, my + 0.5);
    // next month label, cut by the pane edge
    ctx.beginPath();
    ctx.rect(a.left, a.bottom, a.right - a.left, 40);
    ctx.clip();
    ctx.textAlign = 'center';
    ctx.textBaseline = 'top';
    ctx.fillText(nextMonthLabel, x.getPixelForValue(nextMonthDay), a.bottom + 8);
    ctx.restore();
  }
};

const flat = v => [{x: X_MIN, y: v}, {x: X_MAX, y: v}];
new Chart(document.getElementById('rsi'), {
  type: 'line',
  data: {
    datasets: [
      {data: flat(70), borderColor: '#787b86', borderWidth: 1, borderDash: [6, 5], pointRadius: 0, fill: false},
      {data: flat(30), borderColor: '#787b86', borderWidth: 1, borderDash: [6, 5], pointRadius: 0,
        fill: '-1', backgroundColor: 'rgba(126,87,194,0.1)'},
      {data: flat(50), borderColor: 'rgba(120,123,134,0.5)', borderWidth: 1, borderDash: [6, 5], pointRadius: 0, fill: false},
      {data: pts(rsiMaDays, rsiMaVals), borderColor: 'rgba(247,224,60,0.55)', borderWidth: 2, pointRadius: 0,
        cubicInterpolationMode: 'monotone', fill: false},
      {data: pts(rsiDays, rsiVals), borderWidth: 0, pointRadius: 0,
        fill: {target: {value: 70}, above: 'rgba(8,153,129,0.25)', below: 'rgba(0,0,0,0)'}},
      {data: pts(rsiDays, rsiVals), borderColor: '#7e57c2', borderWidth: 1, pointRadius: 0,
        fill: {target: {value: 30}, above: 'rgba(0,0,0,0)', below: 'rgba(242,54,69,0.25)'}}
    ]
  },
  options: {
    responsive: true,
    maintainAspectRatio: false,
    events: [],
    layout: {padding: 0},
    plugins: {legend: {display: false}, tooltip: {enabled: false}},
    scales: {
      x: {
        type: 'linear', min: X_MIN, max: X_MAX, offset: false,
        afterBuildTicks: s => { s.ticks = monthDays.map(v => ({value: v})); },
        ticks: {
          callback: v => monthLabels[monthDays.indexOf(v)],
          autoSkip: false, maxRotation: 0, padding: 8, color: '#131722',
          font: c => ({family: FONT, size: 12, weight: (c.tick && c.tick.value === 92) ? 'bold' : 'normal'})
        },
        grid: {color: GRID, drawTicks: false},
        border: {display: false},
        afterFit: s => { s.height = 28; noPad(s); }
      },
      y: {
        position: 'right', min: 11.4, max: 82.8,
        afterBuildTicks: s => { s.ticks = rsiTicks.map(v => ({value: v})); },
        ticks: {callback: v => Number(v).toFixed(2), padding: 8, color: '#131722'},
        grid: {color: '#e9ecf2', drawTicks: false},
        border: {display: false, dash: [1, 3]},
        afterFit: s => { s.width = 65; noPad(s); }
      }
    }
  },
  plugins: [rsiTags]
});
</script>
</body>
